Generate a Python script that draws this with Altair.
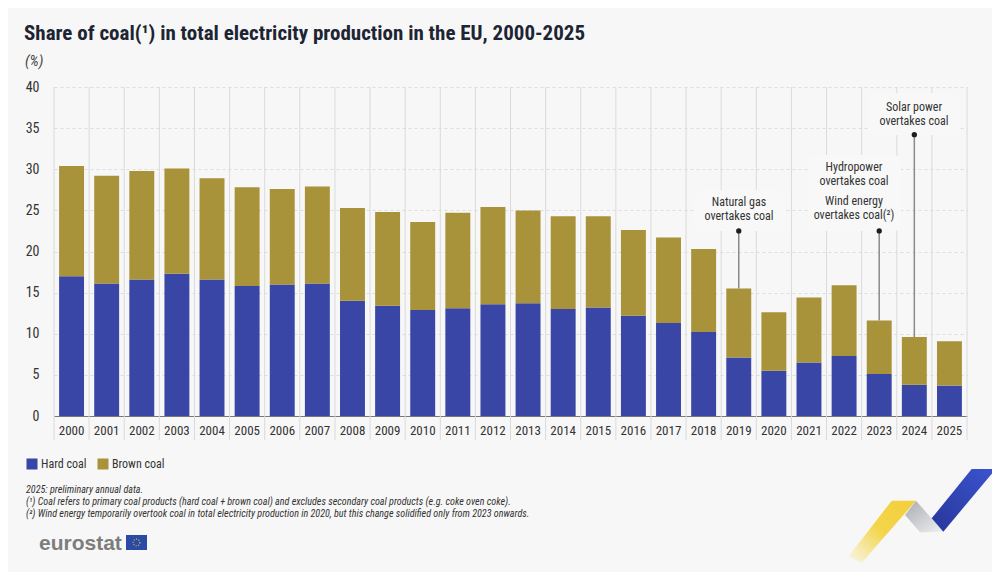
import altair as alt
import pandas as pd

years = [str(y) for y in range(2000, 2026)]
hard_coal = [17.0,16.1,16.6,17.3,16.6,15.8,16.0,16.1,14.0,13.4,12.9,13.1,13.6,13.7,13.0,13.2,12.2,11.3,10.2,7.1,5.5,6.5,7.3,5.1,3.8,3.7]
brown_coal = [13.4,13.1,13.2,12.8,12.3,12.0,11.6,11.8,11.3,11.4,10.7,11.6,11.8,11.3,11.3,11.1,10.4,10.4,10.1,8.4,7.1,7.9,8.6,6.5,5.8,5.4]
series_names = ["Hard coal", "Brown coal"]

note_years = ["2019", "2023", "2024"]
note_tops = [22.5, 22.5, 34.2]
note_lines = [["Natural gas", "overtakes coal"],
              ["Hydropower", "overtakes coal"],
              ["Wind energy", "overtakes coal(²)"],
              ["Solar power", "overtakes coal"]]

title_text = "Share of coal(¹) in total electricity production in the EU, 2000-2025"
unit_text = "(%)"
footnotes = ["2025: preliminary annual data.",
             "(¹) Coal refers to primary coal products (hard coal + brown coal) and excludes secondary coal products (e.g. coke oven coke).",
             "(²) Wind energy temporarily overtook coal in total electricity production in 2020, but this change solidified only from 2023 onwards."]

FONT = "Roboto Condensed, Roboto, sans-serif"
OX, OY = 54, 87     # plot origin on the page
PW, PH = 913, 329   # plot size
STEP = PW / len(years)
BG = "#f7f7f7"
BLUE, BROWN = "#3a46a6", "#a8923a"

rows = []
for y, h, b in zip(years, hard_coal, brown_coal):
    rows.append({"year": y, "series": "Hard coal", "value": h, "rank": 0})
    rows.append({"year": y, "series": "Brown coal", "value": b, "rank": 1})
df = pd.DataFrame(rows)

totals = {y: h + b for y, h, b in zip(years, hard_coal, brown_coal)}
notes = pd.DataFrame({"year": note_years, "top": note_tops, "bar": [totals[y] for y in note_years]})

x_enc = alt.X("year:N", title=None, scale=alt.Scale(paddingInner=0.29, paddingOuter=0.145, domain=years),
              axis=alt.Axis(labelAngle=0, grid=False, ticks=False, domainColor="#777777", domainWidth=1,
                            labelPadding=8, labelFont=FONT, labelFontSize=13, labelColor="#333333"))

# vertical separators between the years, reaching down through the label row
year_frame = pd.DataFrame({"year": years})
sep_right = alt.Chart(year_frame).mark_rule(color="#dadada", strokeWidth=1, xOffset=STEP / 2).encode(
    x=x_enc, y=alt.value(0), y2=alt.value(PH + 24))
sep_left = alt.Chart(year_frame.head(1)).mark_rule(color="#dadada", strokeWidth=1, xOffset=-STEP / 2).encode(
    x=x_enc, y=alt.value(0), y2=alt.value(PH + 24))

bars = alt.Chart(df).mark_bar().encode(
    x=x_enc,
    y=alt.Y("value:Q", stack="zero", title=None,
            scale=alt.Scale(domain=[0, 40], nice=False),
            axis=alt.Axis(values=list(range(0, 45, 5)), grid=True, gridColor="#dddddd", gridDash=[3, 3], gridWidth=1,
                          ticks=False, domain=False, labelPadding=15, labelFont=FONT, labelFontSize=14, labelColor="#333333")),
    color=alt.Color("series:N", scale=alt.Scale(domain=series_names, range=[BLUE, BROWN]),
                    legend=alt.Legend(orient="none", legendX=-28, legendY=371, direction="horizontal", title=None,
                                      symbolType="square", symbolSize=121, symbolStrokeWidth=0, symbolOpacity=1,
                                      labelFont=FONT, labelFontSize=12, labelColor="#333333", columnPadding=10, labelOffset=3)),
    order=alt.Order("rank:Q"),
)

def box(x0, x1, y0, y1):
    return alt.Chart(pd.DataFrame({"k": [0]})).mark_rect(fill="#f8f8f8", cornerRadius=7).encode(
        x=alt.value(x0 - OX), x2=alt.value(x1 - OX), y=alt.value(y0 - OY), y2=alt.value(y1 - OY))

def label(lines, cx, top):
    return alt.Chart(pd.DataFrame({"k": [0]})).mark_text(
        text=lines, font=FONT, fontSize=12, color="#333333", align="center", baseline="top", lineHeight=14.7).encode(
        x=alt.value(cx - OX), y=alt.value(top - OY))

boxes = [box(694, 785, 190, 231), box(808, 901, 155, 231), box(869, 960, 93, 135)]
labels = [label(note_lines[0], 739, 196.5), label(note_lines[1], 854, 161.5),
          label(note_lines[2], 854, 195.5), label(note_lines[3], 914, 101.5)]

rules = alt.Chart(notes).mark_rule(color="#8a8a8a", strokeWidth=1.5).encode(x="year:N", y="top:Q", y2="bar:Q")
dots = alt.Chart(notes).mark_point(filled=True, color="#1d1d1b", size=28, opacity=1).encode(x="year:N", y="top:Q")

def page_text(text, x, y, **kw):
    return alt.Chart(pd.DataFrame({"k": [0]})).mark_text(text=text, align="left", baseline="alphabetic", **kw).encode(
        x=alt.value(x - OX), y=alt.value(y - OY))

texts = [
    page_text(title_text, 24, 40, font=FONT, fontSize=21, fontWeight="bold", color="#1d2433"),
    page_text(unit_text, 25, 66, font=FONT, fontSize=15, fontStyle="italic", color="#444444"),
    page_text(footnotes[0], 26, 493, font=FONT, fontSize=10.1, fontStyle="italic", color="#333333"),
    page_text(footnotes[1], 26, 505, font=FONT, fontSize=10.1, fontStyle="italic", color="#333333"),
    page_text(footnotes[2], 26, 517, font=FONT, fontSize=10.1, fontStyle="italic", color="#333333"),
    page_text("eurostat", 39, 550, font="Liberation Sans", fontSize=21, fontWeight="bold", color="#7d7d7d"),
]

def shape(points, fill):
    # pixel polygon relative to the plot origin, drawn as a custom symbol
    path = "M" + " L".join(f"{x-OX} {y-OY}" for x, y in points) + " Z"
    return alt.Chart(pd.DataFrame({"k": [0]})).mark_point(shape=path, size=4, filled=True, fill=fill, opacity=1, strokeWidth=0).encode(
        x=alt.value(0), y=alt.value(0))

yellow_grad = alt.LinearGradient(gradient="linear", x1=1, y1=0, x2=0, y2=1,
    stops=[alt.GradientStop(offset=0, color="#f2cf3c"), alt.GradientStop(offset=0.5, color="#f4d54a"), alt.GradientStop(offset=1, color="#f8f7ee")])
grey_grad = alt.LinearGradient(gradient="linear", x1=0, y1=0, x2=1, y2=1,
    stops=[alt.GradientStop(offset=0, color="#a9acb4"), alt.GradientStop(offset=1, color="#f0f0f0")])
blue_grad = alt.LinearGradient(gradient="linear", x1=1, y1=0, x2=0, y2=1,
    stops=[alt.GradientStop(offset=0, color="#3c54cf"), alt.GradientStop(offset=1, color="#27369a")])

logo = [
    shape([(891.7, 500.7), (916, 500.7), (861.7, 562.7), (848.3, 556.7)], yellow_grad),
    shape([(916, 500.7), (943.3, 531.7), (920, 532.3), (905, 515)], grey_grad),
    shape([(971.7, 469), (995.7, 469), (943.3, 531.7), (931.7, 518.3)], blue_grad),
    shape([(126, 535), (147, 535), (147, 550), (126, 550)], "#2b4aa6"),
]
stars = alt.Chart(pd.DataFrame({"k": [0]})).mark_point(shape="circle", size=45, filled=False, stroke="#d9c33a", strokeWidth=1.2, strokeDash=[1, 1.5], opacity=1).encode(
    x=alt.value(136.5 - OX), y=alt.value(542.5 - OY))

chart = alt.layer(sep_right, sep_left, bars, *boxes, rules, dots, *labels, *texts, *logo, stars).resolve_scale(x="shared").properties(
    width=PW, height=PH, background=BG,
    padding={"left": OX - 8, "top": OY - 8, "right": 984 - (OX - 8) - PW, "bottom": 564 - (OY - 8) - PH},
    autosize=alt.AutoSizeParams(type="none"),
).configure_view(stroke=None)

chart.save("out.html", embed_options={"renderer": "svg", "actions": False})
